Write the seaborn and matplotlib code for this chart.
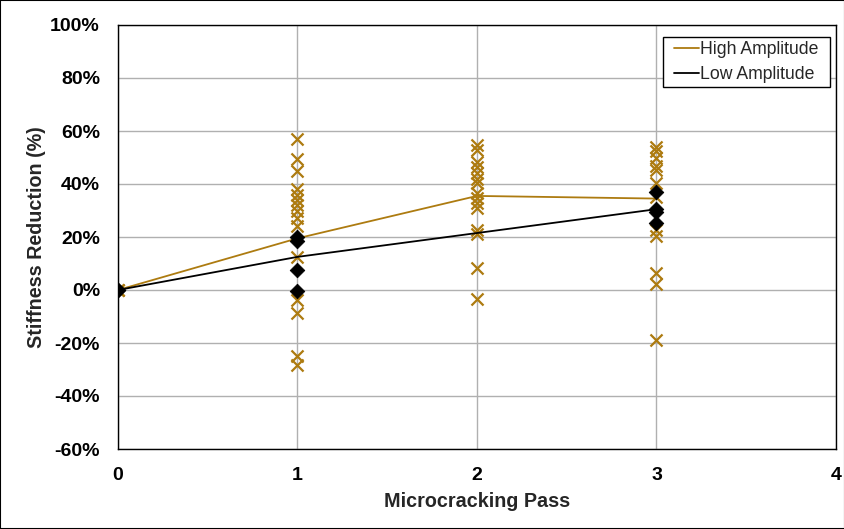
import pandas as pd
import seaborn as sns
import matplotlib.pyplot as plt

# Individual measurements (stiffness reduction, %)
high_x = [0, 0, 0,
          1, 1, 1, 1, 1, 1, 1, 1, 1, 1, 1, 1, 1, 1, 1,
          2, 2, 2, 2, 2, 2, 2, 2, 2, 2, 2, 2, 2, 2, 2,
          3, 3, 3, 3, 3, 3, 3, 3, 3, 3, 3, 3]
high_y = [0, 0, 0,
          57, 49.5, 45, 38, 36, 34, 32, 30, 27, 24, 12.5, -3.8, -8.6, -24.8, -28.2,
          54.7, 52.8, 48.4, 46.5, 44, 42, 40.3, 36.5, 34.6, 33, 30.8, 22.6, 21, 8.4, -3.4,
          54, 52.5, 49.7, 46.8, 45.2, 40.3, 35, 22.5, 20.4, 6.3, 2.3, -19]

low_x = [0, 0, 1, 1, 1, 1, 3, 3, 3, 3]
low_y = [0, 0, 20, 18.5, 7.5, -0.3, 37, 30.4, 29.5, 25.4]

# Average lines
passes = [0, 1, 2, 3]
high_avg = [0, 19.5, 35.5, 34.5]
low_avg = [0, 12.5, 21.5, 30.5]

gold = '#AD7B10'

sns.set_style('white')
plt.rcParams['font.family'] = ['Liberation Sans', 'DejaVu Sans']

fig = plt.figure(figsize=(8.45, 5.29), dpi=100)
ax = fig.add_axes([118 / 845, 1 - 449 / 529, (836 - 118) / 845, (449 - 25) / 529])

pts_high = pd.DataFrame({'x': high_x, 'y': high_y})
pts_low = pd.DataFrame({'x': low_x, 'y': low_y})
avg = pd.DataFrame({'x': passes * 2,
                    'y': high_avg + low_avg,
                    'series': ['High Amplitude'] * 4 + ['Low Amplitude'] * 4})

sns.scatterplot(data=pts_high, x='x', y='y', marker='x', color=gold, s=75,
                linewidth=1.6, ax=ax, zorder=3, legend=False)
sns.scatterplot(data=pts_low, x='x', y='y', marker='D', color='black', s=55,
                edgecolor='black', ax=ax, zorder=4, legend=False)
sns.lineplot(data=avg, x='x', y='y', hue='series',
             palette={'High Amplitude': gold, 'Low Amplitude': 'black'},
             linewidth=1.3, ax=ax, zorder=3)

ax.set_xlim(0, 4)
ax.set_ylim(-60, 100)
ax.set_xticks([0, 1, 2, 3, 4])
ax.set_yticks(range(-60, 101, 20))
ax.set_yticklabels([f'{v}%' for v in range(-60, 101, 20)])
ax.grid(True, color='#b0b0b0', linewidth=1)
ax.set_axisbelow(True)
for s in ax.spines.values():
    s.set_visible(True)
    s.set_color('black')
    s.set_linewidth(1)
ax.tick_params(axis='both', length=0, pad=13, colors='black', labelsize=14)
for lab in ax.get_xticklabels() + ax.get_yticklabels():
    lab.set_fontweight('bold')
ax.set_xlabel('Microcracking Pass', fontsize=14.2, fontweight='bold', labelpad=6)
ax.set_ylabel('Stiffness Reduction (%)', fontsize=14.2, fontweight='bold', labelpad=3)

# legend without its own frame; a wider box is drawn around it below
leg = ax.legend(loc='upper right', bbox_to_anchor=(0.982, 0.972), fontsize=12.7,
                frameon=False, handlelength=1.4, handletextpad=0.1,
                borderpad=0.25, labelspacing=0.42, borderaxespad=0)

fig.canvas.draw()
bb = leg.get_window_extent()
hpad = 6.5
fig.patches.append(plt.Rectangle((bb.x0 - hpad, bb.y0), bb.width + 2 * hpad, bb.height,
                                 transform=None, fill=True, facecolor='white',
                                 edgecolor='black', linewidth=1, zorder=4))
leg.set_zorder(5)
leg.remove()
fig.add_artist(leg)

fig.patches.append(plt.Rectangle((0, 0), 1, 1, transform=fig.transFigure,
                                 fill=False, edgecolor='black', linewidth=1.5))

fig.savefig('out.png', dpi=100)
